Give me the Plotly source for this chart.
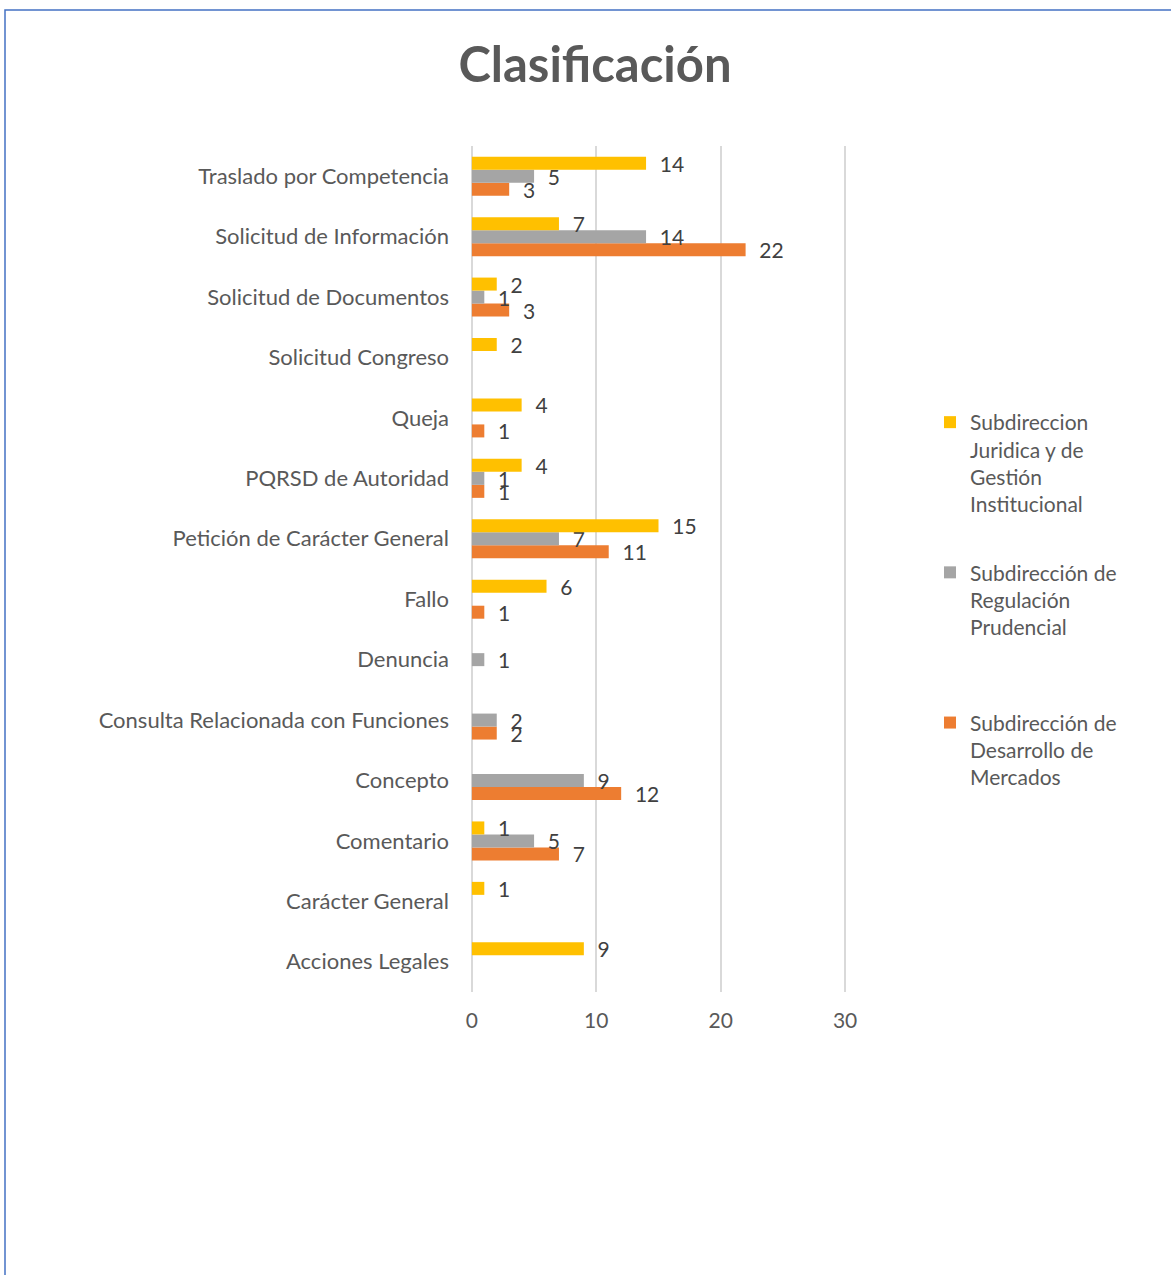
import plotly.graph_objects as go

categories = ["Acciones Legales", "Carácter General", "Comentario", "Concepto",
              "Consulta Relacionada con Funciones", "Denuncia", "Fallo",
              "Petición de Carácter General", "PQRSD de Autoridad", "Queja",
              "Solicitud Congreso", "Solicitud de Documentos",
              "Solicitud de Información", "Traslado por Competencia"]

juridica = [9, 1, 1, None, None, None, 6, 15, 4, 4, 2, 2, 7, 14]
regulacion = [None, None, 5, 9, 2, 1, None, 7, 1, None, None, 1, 14, 5]
mercados = [None, None, 7, 12, 2, None, 1, 11, 1, 1, None, 3, 22, 3]

name_juridica = "Subdireccion<br>Juridica y de<br>Gestión<br>Institucional"
name_regulacion = "Subdirección de<br>Regulación<br>Prudencial<br> "
name_mercados = "Subdirección de<br>Desarrollo de<br>Mercados<br> "

x_ticks = [0, 10, 20, 30]

FONT = "Lato"
TXT = "#404040"
LBL = "#595959"

W, H = 1171, 1275
PAD = 0.15  # axis range padding so edge gridlines are drawn
unit = (845 - 472) / 30.0
L = round(472 - PAD * unit)
R = round(845 + PAD * unit)
T, B = 146, 992

def px_x(px):
    return (px - L) / (R - L)

def px_y(py):
    return (B - py) / (B - T)

fig = go.Figure()
for vals, name, color, rank in [(mercados, name_mercados, "#ED7D31", 3),
                                (regulacion, name_regulacion, "#A5A5A5", 2),
                                (juridica, name_juridica, "#FFC000", 1)]:
    fig.add_trace(go.Bar(
        y=categories, x=vals, name=name, orientation="h",
        marker=dict(color=color, line=dict(width=0)),
        text=[("" if v is None else "\u00a0\u00a0" + str(v)) for v in vals],
        textposition="outside", constraintext="none", cliponaxis=False,
        textfont=dict(family=FONT, size=21, color=TXT),
        legendgroup="g%d" % rank, legendrank=rank,
    ))

fig.update_layout(
    width=W, height=H,
    margin=dict(l=L, r=W - R, t=T, b=H - B),
    paper_bgcolor="white", plot_bgcolor="white",
    barmode="group", bargap=0.355, bargroupgap=0,
    title=dict(text="<b>Clasificación</b>", x=595 / W, xanchor="center",
               y=1 - 65 / H, yanchor="middle",
               font=dict(family=FONT, size=49, color=LBL)),
    xaxis=dict(range=[-PAD, 30 + PAD], tickvals=x_ticks, showgrid=True,
               gridcolor="#D9D9D9", gridwidth=1.5, zeroline=False,
               showline=False, tickfont=dict(family=FONT, size=21, color=LBL),
               ticks="", ticklabelstandoff=14),
    yaxis=dict(categoryorder="array", categoryarray=categories,
               showgrid=False, zeroline=False, showline=False,
               tickfont=dict(family=FONT, size=22, color=LBL),
               ticks="", ticklabelstandoff=20),
    legend=dict(x=px_x(930), xanchor="left", y=px_y(402), yanchor="top",
                traceorder="grouped", tracegroupgap=38,
                valign="top",
                font=dict(family=FONT, size=21, color=LBL),
                bgcolor="rgba(0,0,0,0)"),
    shapes=[dict(type="rect", xref="paper", yref="paper",
                 x0=px_x(5), x1=px_x(1190), y0=px_y(1300), y1=px_y(10),
                 line=dict(color="#4472C4", width=1.5), layer="below")],
)

fig.write_html("out.html",
               config={"displayModeBar": False},
               post_script="document.body.style.margin='0';")
